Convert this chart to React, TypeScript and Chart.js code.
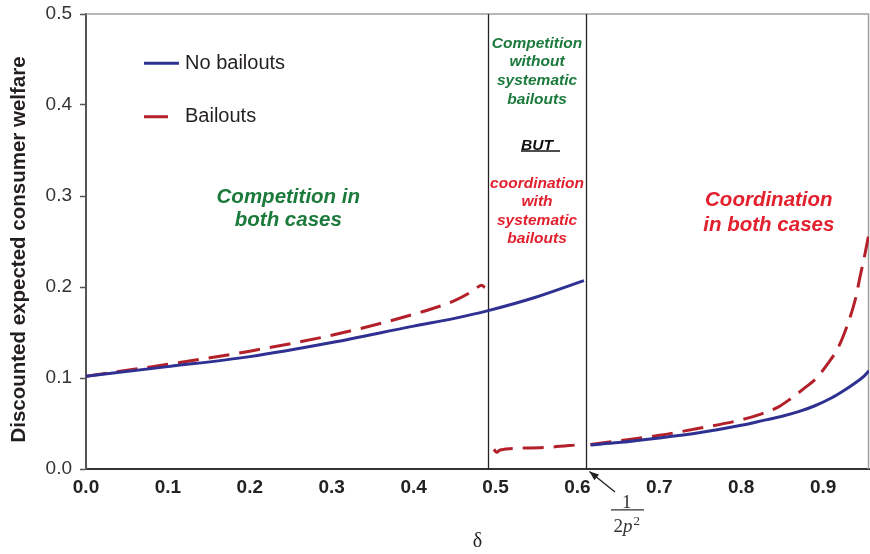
import { useEffect, useRef } from "react";
import { Chart, registerables } from "chart.js";

Chart.register(...registerables);

// ---------- data ----------
const X_MIN = 0;
const X_MAX = 0.956;
const Y_MIN = 0;
const Y_MAX = 0.5;
const X_TICK_STEP = 0.1;
const Y_TICK_STEP = 0.1;

// "No bailouts" (solid); null marks a break in the curve
const noBailoutsX = [0, 0.1, 0.2, 0.3, 0.4, 0.45, 0.491, 0.55, 0.608, 0.612, 0.616, 0.65, 0.7, 0.75, 0.8, 0.83, 0.85, 0.87, 0.89, 0.91, 0.925, 0.94, 0.95, 0.956];
const noBailoutsY = [0.102, 0.1125, 0.1235, 0.139, 0.157, 0.1655, 0.174, 0.189, 0.207, null, 0.0265, 0.029, 0.034, 0.04, 0.048, 0.054, 0.058, 0.063, 0.0695, 0.078, 0.086, 0.095, 0.102, 0.108];

// "Bailouts" (dashed)
const bailoutsX = [0, 0.1, 0.2, 0.3, 0.4, 0.45, 0.473, 0.483, 0.487, 0.492, 0.498, 0.5015, 0.5055, 0.554, 0.608, 0.612, 0.616, 0.65, 0.7, 0.75, 0.8, 0.823, 0.845, 0.86, 0.876, 0.892, 0.905, 0.917, 0.925, 0.933, 0.94, 0.945, 0.951, 0.956];
const bailoutsY = [0.102, 0.115, 0.1295, 0.147, 0.17, 0.185, 0.196, 0.202, 0.1995, null, 0.0216, 0.0183, 0.0209, 0.0234, 0.0271, null, 0.027, 0.031, 0.037, 0.045, 0.054, 0.06, 0.068, 0.077, 0.088, 0.1, 0.115, 0.131, 0.147, 0.167, 0.189, 0.211, 0.236, 0.259];

// regime boundaries (delta values)
const thresholds = [0.491, 0.611];

const seriesNames = ["No bailouts", "Bailouts"];
const yAxisTitle = "Discounted expected consumer welfare";
const xAxisTitle = "δ";

const COLOR_BLUE = "#2e3192";
const COLOR_RED = "#b3202a";
const COLOR_GREEN = "#1c7a3c";
const COLOR_TEXT_RED = "#e2202e";
const SANS = "'Liberation Sans', Arial, sans-serif";
const SERIF = "'Liberation Serif', 'Times New Roman', serif";

function toPoints(xs: number[], ys: (number | null)[]) {
  return xs.map((x, i) => ({ x, y: ys[i] }));
}

const annotationPlugin = {
  id: "annotations",
  beforeDatasetsDraw(chart: any) {
    const { ctx, chartArea, scales } = chart;
    const xs = scales.x;
    ctx.save();
    // top and right frame
    ctx.strokeStyle = "#a0a0a0";
    ctx.lineWidth = 1.5;
    ctx.beginPath();
    ctx.moveTo(chartArea.left, chartArea.top);
    ctx.lineTo(chartArea.right - 0.5, chartArea.top);
    ctx.lineTo(chartArea.right - 0.5, chartArea.bottom);
    ctx.stroke();
    // regime boundaries
    ctx.strokeStyle = "#222";
    ctx.lineWidth = 1.3;
    thresholds.forEach((t) => {
      const px = Math.round(xs.getPixelForValue(t)) + 0.5;
      ctx.beginPath();
      ctx.moveTo(px, chartArea.top);
      ctx.lineTo(px, chartArea.bottom);
      ctx.stroke();
    });
    ctx.restore();
  },
  afterDraw(chart: any) {
    const { ctx, scales } = chart;
    const X = (v: number) => scales.x.getPixelForValue(v);
    const Y = (v: number) => scales.y.getPixelForValue(v);
    ctx.save();

    const text = (s: string, xv: number, yv: number, font: string, color: string, align: CanvasTextAlign = "center") => {
      ctx.font = font;
      ctx.fillStyle = color;
      ctx.textAlign = align;
      ctx.textBaseline = "middle";
      ctx.fillText(s, X(xv), Y(yv));
    };

    // legend
    ctx.lineWidth = 3;
    ctx.strokeStyle = COLOR_BLUE;
    ctx.beginPath();
    ctx.moveTo(X(0.0708), Y(0.4458));
    ctx.lineTo(X(0.1135), Y(0.4458));
    ctx.stroke();
    ctx.strokeStyle = COLOR_RED;
    ctx.beginPath();
    ctx.moveTo(X(0.0708), Y(0.3871));
    ctx.lineTo(X(0.1001), Y(0.3871));
    ctx.stroke();
    text(seriesNames[0], 0.1209, 0.4458, `20px ${SANS}`, "#231f20", "left");
    text(seriesNames[1], 0.1209, 0.3871, `20px ${SANS}`, "#231f20", "left");

    // region labels
    const big = `italic bold 20.5px ${SANS}`;
    text("Competition in", 0.247, 0.299, big, COLOR_GREEN);
    text("both cases", 0.247, 0.2736, big, COLOR_GREEN);
    text("Coordination", 0.8337, 0.2956, big, COLOR_TEXT_RED);
    text("in both cases", 0.8337, 0.2681, big, COLOR_TEXT_RED);

    const mid = `italic bold 15.5px ${SANS}`;
    const cx = 0.5507;
    text("Competition", cx, 0.4678, mid, COLOR_GREEN);
    text("without", cx, 0.4476, mid, COLOR_GREEN);
    text("systematic", cx, 0.4264, mid, COLOR_GREEN);
    text("bailouts", cx, 0.4063, mid, COLOR_GREEN);
    text("BUT", cx, 0.355, mid, "#111");
    ctx.strokeStyle = "#111";
    ctx.lineWidth = 1.6;
    ctx.beginPath();
    ctx.moveTo(X(0.5311), Y(0.3495));
    ctx.lineTo(X(0.5787), Y(0.3495));
    ctx.stroke();
    text("coordination", cx, 0.3132, mid, COLOR_TEXT_RED);
    text("with", cx, 0.2934, mid, COLOR_TEXT_RED);
    text("systematic", cx, 0.2729, mid, COLOR_TEXT_RED);
    text("bailouts", cx, 0.2527, mid, COLOR_TEXT_RED);

    // y-axis title
    ctx.save();
    ctx.translate(24.5, (Y(0.0) + Y(0.5)) / 2 + 8);
    ctx.rotate(-Math.PI / 2);
    ctx.font = `bold 20.5px ${SANS}`;
    ctx.fillStyle = "#231f20";
    ctx.textAlign = "center";
    ctx.textBaseline = "alphabetic";
    ctx.fillText(yAxisTitle, 0, 0);
    ctx.restore();

    // arrow to 1/(2p^2)
    const tx = X(0.6459), ty = Y(-0.0253);
    const hx = X(0.6147), hy = Y(-0.0027);
    ctx.strokeStyle = "#222";
    ctx.fillStyle = "#222";
    ctx.lineWidth = 1.4;
    ctx.beginPath();
    ctx.moveTo(tx, ty);
    ctx.lineTo(hx, hy);
    ctx.stroke();
    const ang = Math.atan2(hy - ty, hx - tx);
    ctx.beginPath();
    ctx.moveTo(hx, hy);
    ctx.lineTo(hx - 10 * Math.cos(ang - 0.38), hy - 10 * Math.sin(ang - 0.38));
    ctx.lineTo(hx - 10 * Math.cos(ang + 0.38), hy - 10 * Math.sin(ang + 0.38));
    ctx.closePath();
    ctx.fill();

    // fraction 1 / 2p^2
    const fc = X(0.6602);
    ctx.fillStyle = "#333";
    ctx.textBaseline = "alphabetic";
    ctx.textAlign = "center";
    ctx.font = `19px ${SERIF}`;
    ctx.fillText("1", fc, Y(-0.0352) + 6.5);
    ctx.strokeStyle = "#333";
    ctx.lineWidth = 1.2;
    ctx.beginPath();
    ctx.moveTo(X(0.641), Y(-0.045));
    ctx.lineTo(X(0.6813), Y(-0.045));
    ctx.stroke();
    ctx.textAlign = "left";
    const base = Y(-0.0689);
    ctx.font = `19px ${SERIF}`;
    const w2 = ctx.measureText("2").width;
    ctx.font = `italic 19px ${SERIF}`;
    const wp = ctx.measureText("p").width;
    ctx.font = `13px ${SERIF}`;
    const ws = ctx.measureText("2").width;
    let x0 = fc - (w2 + wp + ws + 1) / 2;
    ctx.font = `19px ${SERIF}`;
    ctx.fillText("2", x0, base);
    x0 += w2;
    ctx.font = `italic 19px ${SERIF}`;
    ctx.fillText("p", x0, base);
    x0 += wp + 1;
    ctx.font = `13px ${SERIF}`;
    ctx.fillText("2", x0, base - 7);

    ctx.restore();
  },
};

export default function App() {
  const ref = useRef<HTMLCanvasElement | null>(null);

  useEffect(() => {
    if (!ref.current) return;
    const chart = new Chart(ref.current, {
      type: "line",
      data: {
        datasets: [
          {
            label: seriesNames[0],
            data: toPoints(noBailoutsX, noBailoutsY),
            borderColor: COLOR_BLUE,
            borderWidth: 3,
            pointRadius: 0,
            fill: false,
            spanGaps: false,
            cubicInterpolationMode: "monotone",
          },
          {
            label: seriesNames[1],
            data: toPoints(bailoutsX, bailoutsY),
            borderColor: COLOR_RED,
            borderWidth: 3,
            borderDash: [21, 10],
            pointRadius: 0,
            fill: false,
            spanGaps: false,
            cubicInterpolationMode: "monotone",
          },
        ],
      },
      options: {
        animation: false,
        responsive: false,
        devicePixelRatio: 1,
        layout: { padding: { top: 14, right: 1, left: 0, bottom: 0 } },
        plugins: {
          legend: { display: false },
          tooltip: { enabled: false },
          title: { display: false },
        },
        scales: {
          x: {
            type: "linear",
            min: X_MIN,
            max: X_MAX,
            afterFit(scale: any) {
              scale.height = 85;
              scale.paddingLeft = 0;
              scale.paddingRight = 0;
            },
            ticks: {
              stepSize: X_TICK_STEP,
              includeBounds: false,
              padding: 7,
              color: "#222",
              font: { family: SANS, size: 19, weight: "bold" },
              callback: (v: any) => Number(v).toFixed(1),
            },
            grid: { drawOnChartArea: false, drawTicks: false },
            border: { display: true, color: "#333", width: 2 },
            title: {
              display: true,
              text: xAxisTitle,
              color: "#222",
              font: { family: SERIF, size: 20, lineHeight: 1.0 },
              padding: { top: 0, bottom: 2 },
            },
          },
          y: {
            type: "linear",
            min: Y_MIN,
            max: Y_MAX,
            afterFit(scale: any) {
              scale.width = 86;
              scale.paddingTop = 0;
              scale.paddingBottom = 0;
            },
            ticks: {
              stepSize: Y_TICK_STEP,
              padding: 8,
              color: "#333",
              font: { family: SANS, size: 19 },
              callback: (v: any) => Number(v).toFixed(1),
            },
            grid: { drawOnChartArea: false, drawTicks: true, tickLength: 6, color: "#555", tickWidth: 1.5 },
            border: { display: true, color: "#555", width: 2 },
          },
        },
      },
      plugins: [annotationPlugin],
    });
    return () => chart.destroy();
  }, []);

  return (
    <div style={{ position: "fixed", left: 0, top: 0, width: 870, height: 554, background: "#fff" }}>
      <canvas ref={ref} width={870} height={554} style={{ display: "block", width: 870, height: 554 }} />
    </div>
  );
}
